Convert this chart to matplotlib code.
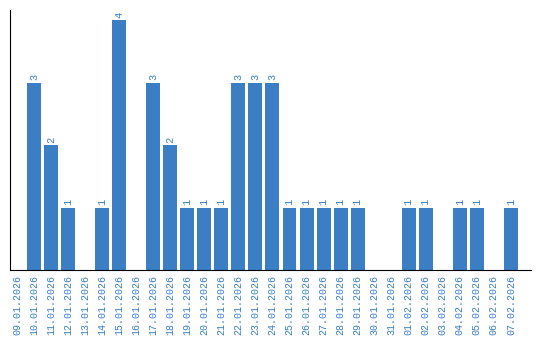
#!/usr/bin/env python3

import matplotlib
matplotlib.use("Agg")
import matplotlib.pyplot as plt

dates = ["09.01.2026", "10.01.2026", "11.01.2026", "12.01.2026", "13.01.2026",
         "14.01.2026", "15.01.2026", "16.01.2026", "17.01.2026", "18.01.2026",
         "19.01.2026", "20.01.2026", "21.01.2026", "22.01.2026", "23.01.2026",
         "24.01.2026", "25.01.2026", "26.01.2026", "27.01.2026", "28.01.2026",
         "29.01.2026", "30.01.2026", "31.01.2026", "01.02.2026", "02.02.2026",
         "03.02.2026", "04.02.2026", "05.02.2026", "06.02.2026", "07.02.2026"]
counts = [0, 3, 2, 1, 0, 1, 4, 0, 3, 2,
          1, 1, 1, 3, 3, 3, 1, 1, 1, 1,
          1, 0, 0, 1, 1, 0, 1, 1, 0, 1]

blue = "#3b7ec3"
mono = "Liberation Mono"

fig = plt.figure(figsize=(5.4, 3.4), dpi=100)
ax = fig.add_axes([10 / 540, 70 / 340, 521 / 540, 260 / 340])

positions = range(len(dates))
ax.bar(positions, counts, width=0.82, color=blue)

for x, c in zip(positions, counts):
    if c > 0:
        ax.text(x, c + 0.04, str(c), rotation=90, ha="center", va="bottom",
                color=blue, fontsize=7.5, family=mono)

ax.set_xlim(-0.41, 30.18)
ax.set_ylim(0, 4.16)
ax.set_xticks(list(positions))
ax.set_xticklabels(dates, rotation=90, color=blue, fontsize=7.2, family=mono)
ax.tick_params(axis="x", length=0, pad=3.5)
ax.set_yticks([])
ax.spines["top"].set_visible(False)
ax.spines["right"].set_visible(False)

fig.savefig("out.png", dpi=100)
